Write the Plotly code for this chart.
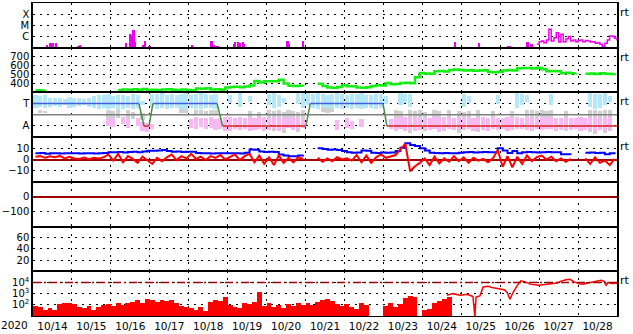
import plotly.graph_objects as go
from plotly.subplots import make_subplots
from datetime import datetime, timedelta

START = datetime(2020, 10, 14)
END = datetime(2020, 10, 29)
N_SLOTS = 120  # 3-hour slots

day_labels = ['10/14', '10/15', '10/16', '10/17', '10/18', '10/19', '10/20', '10/21',
              '10/22', '10/23', '10/24', '10/25', '10/26', '10/27', '10/28']
year_label = '2020'

# ---- panel 1 : X-ray flux ----
xray_tick_vals = [1e-6, 1e-5, 1e-4]
xray_tick_text = ['C', 'M', 'X']
xray_spike_day = [0.36, 0.44, 0.51, 0.59, 1.16, 1.21, 2.39, 2.49, 2.54, 2.59, 2.62, 2.83, 2.88, 3.0,
                  4.09, 4.22, 4.55, 4.59, 4.66, 4.70, 4.76, 5.17, 5.20, 5.28, 5.32, 5.40, 5.43,
                  6.54, 6.57, 6.94, 10.84, 11.46, 11.87, 11.91, 12.21, 12.25, 12.71, 12.81]
xray_spike_flux = [1.9e-7, 2.5e-7, 2.5e-7, 2.5e-7, 1.5e-7, 1.8e-7, 2.5e-7, 1.7e-6, 1.5e-6, 3.7e-6, 3e-7,
                   1.7e-7, 4.2e-7, 1.5e-7, 1.7e-7, 1.2e-7, 1.2e-7, 4.2e-7, 1.9e-7, 1.4e-7, 1.5e-7,
                   2.1e-7, 3.5e-7, 3e-7, 2.4e-7, 3e-7, 2e-7, 4.2e-7, 2e-7, 4.2e-7, 3e-7, 2.4e-7,
                   1.2e-7, 1.2e-7, 1.5e-7, 1.5e-7, 3e-7, 2e-7]
xray_line_day = [12.94, 13.0, 13.06, 13.12, 13.19, 13.25, 13.31, 13.38, 13.44, 13.5, 13.56, 13.62,
                 13.69, 13.75, 13.81, 13.88, 13.94, 14.0, 14.06, 14.12, 14.19, 14.25, 14.31, 14.38,
                 14.44, 14.5, 14.56, 14.62, 14.69, 14.75, 14.81, 14.88, 14.94, 15.0]
xray_line_flux = [2.0e-7, 3.5e-7, 4.0e-7, 2.8e-7, 5.0e-7, 4.5e-6, 4.0e-7, 7.9e-7, 2.2e-6, 3.2e-7,
                  1.6e-6, 3.5e-7, 6.3e-7, 1.0e-6, 4.0e-7, 5.0e-7, 3.5e-7, 4.5e-7, 5.0e-7, 3.5e-7,
                  4.5e-7, 4.0e-7, 3.2e-7, 3.5e-7, 2.5e-7, 2.8e-7, 2.0e-7, 1.3e-7, 2.5e-7, 5.0e-7,
                  1.1e-6, 1.0e-6, 7.1e-7, 4.5e-7]

# ---- panel 2 : solar wind speed (3-hour slots) ----
speed_tick_vals = [400, 500, 600, 700]
speed = [325, 322, 326, None, None, None, None, None,
         None, None, None, None, None, None, None, 330,
         None, 328, 332, 326, 335, 330, 338, 327,
         331, 325, 334, 336, 330, 328, 333, 326,
         325, 344, 340, 346, 333, 336, 330, 355,
         360, 364, 358, 366, 378, 428, 410, 425,
         425, 424, 441, 400, 375, 372, 374, 370,
         None, None, 398, 372, 356, 352, 360, 380,
         370, 368, 355, 352, 358, 372, 380, 378,
         406, 392, 395, 404, 408, 402, 470, 516,
         512, 508, 536, 540, 535, 552, 556, 550,
         546, 548, 542, 546, 548, 527, 525, 530,
         546, 550, 544, 570, 574, 572, 568, 575,
         560, 536, 540, 538, 515, 520, 514, 516,
         None, 508, 512, 505, 515, 510, 506, 512]

# ---- panel 3 : sector (T = +1, A = -1) ----
sector_tick_vals = [-1, 1]
sector_tick_text = ['A', 'T']
sector_mid_level = 0
sector_day = [0, 2.72, 2.85, 2.98, 3.08, 4.73, 4.87, 7.01, 7.12, 8.99, 9.09, 15.0]
sector_val = [1, 1, -1, -1, 1, 1, -1, -1, 1, 1, -1, -1]
N = None
cyan_hi = [1.7, 1.6, 1.75, 1.5, 1.45, 1.5, 1.4, 1.55,
           1.5, 1.45, 1.35, 1.5, 1.6, 1.75, 1.7, 1.8,
           1.65, 1.75, 1.7, 1.6, 1.8, 1.7, 1.2, N,
           1.85, 1.8, 1.9, 1.75, 1.85, 1.7, 1.8, 1.9,
           1.75, 1.85, 1.9, 1.8, 1.7, 1.85, N, N,
           1.7, N, 1.9, N, 1.6, N, N, N,
           1.8, 1.95, 1.7, 1.5, N, N, 1.9, 1.95,
           1.9, 1.85, 1.9, 1.8, 1.75, 1.85, 1.9, 1.8,
           1.7, 1.85, 1.8, 1.9, 1.75, 1.7, 1.85, 1.8,
           1.6, N, N, 1.9, 1.8, 1.85, N, N,
           N, N, N, N, N, N, N, N,
           1.8, 1.6, N, N, N, N, N, 1.7,
           N, N, N, 1.9, 1.8, 1.7, N, N,
           N, N, 1.85, N, N, N, N, N,
           N, N, 1.9, 1.8, 1.85, 1.9, 1.6, N]
cyan_lo = [0.6, 0.7, 0.55, 0.7, 0.75, 0.65, 0.8, 0.6,
           0.7, 0.75, 0.8, 0.65, 0.55, 0.5, 0.6, 0.45,
           0.55, 0.4, 0.5, 0.6, 0.45, 0.55, 0.8, N,
           0.7, 0.5, 0.6, 0.45, 0.55, 0.6, 0.5, 0.4,
           0.55, 0.5, 0.45, 0.6, 0.55, 0.5, N, N,
           1.0, N, 0.7, N, 1.1, N, N, N,
           0.8, 0.6, 0.7, 1.0, N, N, 0.9, 0.6,
           0.8, 0.6, 0.5, 0.7, 0.55, 0.5, 0.6, 0.45,
           0.55, 0.5, 0.6, 0.45, 0.55, 0.6, 0.5, 0.55,
           0.9, N, N, 0.8, 1.0, 0.7, N, N,
           N, N, N, N, N, N, N, N,
           0.7, 1.0, N, N, N, N, N, 0.9,
           N, N, N, 0.6, 0.8, 1.1, N, N,
           N, N, 0.8, N, N, N, N, N,
           N, N, 0.7, 0.5, 0.6, 0.8, 1.1, N]
pink_hi = [N, N, N, N, N, N, N, N,
           N, N, N, N, N, N, N, -0.3,
           -0.4, N, -0.2, -0.5, N, -0.3, -0.7, -0.75,
           -0.9, N, N, N, N, N, N, N,
           -0.4, -0.25, -0.3, -0.35, -0.2, -0.4, -0.3, -0.25,
           -0.2, -0.3, -0.25, -0.35, -0.2, -0.3, -0.25, -0.2,
           -0.3, -0.25, -0.2, -0.3, -0.35, -0.25, -0.3, -0.4,
           N, N, N, N, N, N, -0.5, N,
           -0.3, -0.6, N, -0.4, N, N, N, N,
           N, -0.4, -0.3, -0.25, -0.2, -0.3, -0.25, -0.3,
           -0.3, -0.35, -0.25, -0.3, -0.2, -0.35, -0.3, -0.25,
           -0.3, -0.25, -0.3, -0.35, -0.2, -0.3, -0.25, -0.3,
           -0.35, -0.2, -0.3, -0.25, -0.3, -0.2, -0.35, -0.3,
           -0.25, -0.3, -0.2, -0.3, -0.35, -0.25, -0.3, -0.3,
           -0.25, -0.3, -0.2, -0.25, -0.3, -0.2, -0.25, N]
pink_lo = [N, N, N, N, N, N, N, N,
           N, N, N, N, N, N, N, -1.0,
           -1.1, N, -0.9, -1.2, N, -1.0, -1.5, -1.6,
           -1.3, N, N, N, N, N, N, N,
           -1.2, -1.3, -1.1, -1.35, -1.25, -1.4, -1.3, -1.45,
           -1.5, -1.35, -1.4, -1.3, -1.45, -1.4, -1.3, -1.5,
           -1.4, -1.35, -1.5, -1.3, -1.25, -1.4, -1.35, -1.2,
           N, N, N, N, N, N, -1.4, N,
           -1.2, -1.3, N, -1.1, N, N, N, N,
           N, -1.3, -1.4, -1.35, -1.5, -1.3, -1.45, -1.4,
           -1.35, -1.4, -1.3, -1.45, -1.5, -1.35, -1.4, -1.3,
           -1.4, -1.35, -1.45, -1.3, -1.4, -1.5, -1.35, -1.4,
           -1.3, -1.45, -1.4, -1.35, -1.3, -1.4, -1.5, -1.35,
           -1.4, -1.3, -1.35, -1.45, -1.4, -1.3, -1.4, -1.35,
           -1.45, -1.4, -1.35, -1.5, -1.4, -1.45, -1.3, N]
gray_hi = [N, 0.35, 0.3, N, N, N, N, N,
           N, N, N, N, N, N, N, 0.4,
           0.3, 0.45, N, 0.35, 0.2, N, 0.1, N,
           N, N, N, N, N, N, 0.65, 0.6,
           N, 0.4, 0.35, 0.3, 0.4, 0.35, N, N,
           N, N, N, N, 0.3, N, 0.2, N,
           0.4, 0.3, 0.35, 0.2, 0.4, 0.3, 0.25, 0.4,
           N, N, N, 0.7, 0.6, 0.65, N, N,
           N, N, N, N, N, N, N, N,
           N, N, 0.4, 0.3, N, 0.35, 0.3, 0.4,
           0.2, N, 0.35, 0.3, N, 0.4, N, 0.3,
           0.25, 0.3, N, 0.4, N, N, 0.3, N,
           N, N, 0.3, N, N, 0.4, 0.35, 0.3,
           0.4, 0.3, 0.35, N, N, 0.3, N, N,
           N, N, 0.4, 0.35, 0.3, 0.4, 0.35, N]
gray_lo = [N, 0.1, 0.15, N, N, N, N, N,
           N, N, N, N, N, N, N, -0.5,
           -0.7, -0.3, N, -0.6, -0.4, N, -0.5, N,
           N, N, N, N, N, N, 0.15, 0.1,
           N, 0.0, -0.05, 0.05, -0.1, 0.0, N, N,
           N, N, N, N, -0.5, N, -0.6, N,
           -1.0, -1.5, -0.8, -1.7, -1.2, -0.9, -1.6, -0.6,
           N, N, N, 0.2, 0.15, 0.25, N, N,
           N, N, N, N, N, N, N, N,
           N, N, -1.5, -0.9, N, -1.7, -1.2, -0.8,
           -1.5, N, -1.0, -1.6, N, -0.8, N, -1.7,
           -1.2, -0.7, N, -1.6, N, N, -1.0, N,
           N, N, -0.9, N, N, -0.7, -0.8, -0.6,
           -0.75, -0.6, -0.9, N, N, -1.5, N, N,
           N, N, -1.6, -1.8, -1.2, -1.7, -1.5, N]

# ---- panel 4 : IMF Bt / Bz (nT) ----
imf_tick_vals = [-10, 0, 10]
bt = [5.5, 5.8, 5.2, 5.5, 5.6, 5.3, 5.5, 5.7,
      5.5, 5.4, 5.6, 5.5, 5.3, 5.6, 5.9, 6.5,
      6.5, 6.8, 6.3, 6.6, 7.0, 6.5, 7.2, 7.8,
      7.8, 8.0, 8.4, 7.5, 7.0, 7.2, 6.8, 7.0,
      7.0, 5.8, 5.5, 5.6, 5.4, 5.5, 5.5, 5.7,
      5.5, 5.6, 5.3, 6.0, 9.0, 8.8, 7.2, 6.8,
      7.0, 6.8, 4.5, 3.5, 3.0, 2.8, 3.5, 4.0,
      N, N, 10.0, 9.5, 8.8, 9.0, 8.5, 7.5,
      6.5, 6.0, 6.2, 8.0, 7.8, 6.0, 5.8, 6.2,
      6.0, 6.3, 7.5, 10.5, 14.5, 13.0, 12.0, 10.0,
      8.0, 6.0, 5.8, 5.5, 5.9, 5.6, 5.5, 6.0,
      6.5, 6.8, 6.2, 6.5, 6.6, 6.4, 6.5, 10.0,
      8.0, 5.8, 7.5, 5.6, 6.5, 6.8, 6.5, 6.3,
      6.5, 6.8, 6.4, 6.5, 4.6, 4.8, 4.5, N,
      N, 6.0, 6.2, 5.8, 6.0, 4.6, 5.5, 4.8]
bz = [2.5, 3.0, 1.5, 2.8, 2.0, 3.2, 1.0, 2.5,
      1.0, 0.5, 1.8, 0.2, 1.5, 0.8, 2.0, 4.5,
      -1.0, 5.0, -2.5, 3.0, 0.5, -3.0, 2.5, -0.5,
      -4.0, 1.5, -1.5, 2.0, 4.5, -0.5, 3.0, 1.0,
      5.0, 0.5, 2.5, -0.5, 3.0, 1.5, 4.0, 0.0,
      2.0, 4.5, -0.5, 3.0, 5.0, -2.5, 3.5, -4.0,
      2.0, -5.0, 3.5, -3.0, 1.5, -2.5, 2.0, 0.5,
      N, N, 1.5, -2.0, 1.0, -1.5, 2.0, 0.0,
      1.0, -1.0, 4.0, -2.5, 3.5, -3.0, 2.0, 4.5,
      1.5, 3.0, 4.0, 9.0, 14.0, -10.5, -6.0, -3.0,
      1.0, -5.0, 2.5, -3.5, 1.0, -2.0, 3.0, -1.5,
      2.0, -3.0, 1.5, -1.0, 0.5, -2.5, 1.0, 8.5,
      -6.5, 3.0, -7.0, 2.5, -4.0, 3.5, -1.5, 2.0,
      3.5, 0.0, 2.5, -1.5, 1.0, -2.0, 0.5, N,
      N, 1.0, -4.0, 2.0, -3.0, -1.0, -5.0, 0.5]

# ---- panel 5 / 6 : empty panels ----
dst_tick_vals = [-100, 0]
kp_tick_vals = [20, 40, 60]

# ---- panel 7 : electron flux ----
e_tick_vals = [100, 1000, 10000]
e_tick_text = ['10<sup>2</sup>', '10<sup>3</sup>', '10<sup>4</sup>']
e_alert_level = 10000
e_bar_flux = [80, 63, 30, 45, 35, 110, 150, 130,
              110, 60, 45, 70, 35, 55, 90, 110,
              80, 150, 100, 130, 180, 230, 150, 300,
              260, 180, 250, 200, 280, 150, 70, 60,
              45, 30, 55, 25, 180, 250, 200, 450,
              100, 60, 45, 150, 110, 180, 1200, 80,
              140, 60, 90, 50, 110, 70, 150, 100,
              130, 90, 160, 250, 300, 200, 120, 70,
              110, 60, 40, 140, 90, N, N, N,
              80, 150, 60, 120, 350, 550, 450, N,
              35, 40, 130, 200, 300, 450]
e_line_day = [10.63, 10.79, 10.97, 11.15, 11.30, 11.35, 11.38, 11.48, 11.56, 11.69, 11.79, 11.89,
              12.0, 12.10, 12.18, 12.25, 12.33, 12.43, 12.53, 12.64, 12.77, 12.90, 12.97, 13.10,
              13.20, 13.33, 13.46, 13.56, 13.69, 13.79, 13.90, 14.03, 14.13, 14.26, 14.38, 14.49,
              14.59, 14.67, 14.72, 14.77, 14.87, 15.0]
e_line_flux = [708, 1000, 708, 891, 562, 8, 501, 631, 3981, 4467, 3548, 3162,
               2512, 2239, 1259, 316, 1259, 5012, 14125, 11220, 7079, 6310, 5623, 6310,
               7079, 8318, 8913, 13183, 17783, 19055, 11220, 7586, 6918, 8913, 11220, 15136,
               15849, 12589, 5623, 10000, 7943, 8318]

# ------------------------------------------------------------------
def at_day(d):
    return START + timedelta(days=d)

slot_time = [START + timedelta(hours=3 * i + 1.5) for i in range(N_SLOTS)]
SLOT_MS = 3 * 3600 * 1000


def span(hi, lo):
    return [None if (h is None or l is None) else h - l for h, l in zip(hi, lo)]


MAG = '#ee00ee'
DARKRED = '#a00000'
fig = make_subplots(rows=7, cols=1, shared_xaxes=True, vertical_spacing=0)

# panel 1
fig.add_trace(go.Bar(x=[at_day(d) for d in xray_spike_day], y=xray_spike_flux, width=4.0e6,
                     marker=dict(color=MAG, line=dict(width=0))), row=1, col=1)
fig.add_trace(go.Scatter(x=[at_day(d) for d in xray_line_day], y=xray_line_flux, mode='lines',
                         line=dict(color=MAG, width=1.5, shape='hv')), row=1, col=1)
# panel 2
fig.add_trace(go.Scatter(x=slot_time, y=speed, mode='lines', connectgaps=False,
                         line=dict(color='#11ee11', width=2.5, shape='hv')), row=2, col=1)
# panel 3 clouds
for hi, lo, col in [(gray_hi, gray_lo, '#d0d0d0'), (cyan_hi, cyan_lo, '#b4e8f8'),
                    (pink_hi, pink_lo, '#f8b8f2')]:
    fig.add_trace(go.Bar(x=slot_time, y=span(hi, lo), base=lo, width=SLOT_MS * 0.85,
                         marker=dict(color=col, line=dict(width=0))), row=3, col=1)
fig.add_trace(go.Scatter(x=[START, END], y=[sector_mid_level, sector_mid_level], mode='lines',
                         line=dict(color='#808080', width=1.5)), row=3, col=1)
for i in range(len(sector_day) - 1):
    a, b = sector_val[i], sector_val[i + 1]
    col = '#3f5fe0' if (a == b and a > 0) else ('#dd2222' if a == b else '#4a8a4a')
    fig.add_trace(go.Scatter(x=[at_day(sector_day[i]), at_day(sector_day[i + 1])], y=[a, b],
                             mode='lines', line=dict(color=col, width=1.5)), row=3, col=1)
# panel 4
fig.add_trace(go.Scatter(x=slot_time, y=bt, mode='lines', line=dict(color='#0000ff', width=2, shape='hv')),
              row=4, col=1)
fig.add_trace(go.Scatter(x=slot_time, y=bz, mode='lines', line=dict(color='#ff0000', width=2)),
              row=4, col=1)
# panels 5 and 6 carry no data; invisible placeholders keep their axes drawn
for r in (5, 6):
    fig.add_trace(go.Scatter(x=[START, END], y=[None, None], mode='lines', hoverinfo='skip',
                             line=dict(width=0)), row=r, col=1)
# panel 7
fig.add_trace(go.Bar(x=slot_time[:len(e_bar_flux)], y=e_bar_flux, width=SLOT_MS,
                     marker=dict(color='#ff0000', line=dict(width=0))), row=7, col=1)
fig.add_trace(go.Scatter(x=[at_day(d) for d in e_line_day], y=e_line_flux, mode='lines',
                         line=dict(color='#ff0000', width=1.5)), row=7, col=1)
fig.add_trace(go.Scatter(x=[START, END], y=[e_alert_level, e_alert_level], mode='lines',
                         line=dict(color=DARKRED, width=1.5, dash='8px,3px,2px,3px')), row=7, col=1)

DOT = '2px,5px'
noon_ticks = [START + timedelta(days=k, hours=12) for k in range(len(day_labels))]
for r in range(1, 8):
    fig.update_xaxes(row=r, col=1, type='date', range=[START, END], showline=True, mirror=True,
                     linecolor='black', linewidth=1.2, ticks='', showgrid=False,
                     tickmode='array', tickvals=noon_ticks, ticktext=day_labels,
                     showticklabels=(r == 7), zeroline=False, tickfont=dict(size=10.5),
                     minor=dict(dtick=86400000, tick0=START, showgrid=True, gridcolor='black',
                                griddash=DOT, gridwidth=1))

ycfg = {
    1: dict(type='log', range=[-7, -3], tickvals=xray_tick_vals, ticktext=xray_tick_text),
    2: dict(type='linear', range=[300, 800], tickvals=speed_tick_vals),
    3: dict(type='linear', range=[-2, 2], tickvals=sector_tick_vals, ticktext=sector_tick_text),
    4: dict(type='linear', range=[-20, 20], tickvals=imf_tick_vals, zeroline=True,
            zerolinecolor=DARKRED, zerolinewidth=1.5),
    5: dict(type='linear', range=[-200, 100], tickvals=dst_tick_vals, zeroline=True,
            zerolinecolor=DARKRED, zerolinewidth=1.5),
    6: dict(type='linear', range=[0, 80], tickvals=kp_tick_vals),
    7: dict(type='log', range=[1, 5], tickvals=e_tick_vals, ticktext=e_tick_text),
}
for r, cfg in ycfg.items():
    base = dict(showline=True, mirror=True, linecolor='black', linewidth=1.5, ticks='',
                showgrid=True, gridcolor='black', griddash=DOT, gridwidth=1, zeroline=False,
                tickmode='array', fixedrange=True, tickfont=dict(size=10))
    base.update(cfg)
    fig.update_yaxes(row=r, col=1, **base)

ann = []
for r in [1, 2, 3, 4, 7]:
    ann.append(dict(text='rt', xref='paper', x=1, xanchor='left', xshift=1,
                    yref=('y domain' if r == 1 else f'y{r} domain'), y=0.79, yanchor='middle',
                    showarrow=False, font=dict(size=11, color='black')))
ann.append(dict(text=year_label, xref='paper', x=0, xanchor='right', xshift=-3,
                yref='paper', y=0, yanchor='top', yshift=-1, showarrow=False,
                font=dict(size=10.5, color='black')))

fig.update_layout(width=633, height=334, margin=dict(l=33, r=16, t=2, b=17),
                  paper_bgcolor='white', plot_bgcolor='white', showlegend=False,
                  barmode='overlay', bargap=0,
                  font=dict(family='DejaVu Sans', size=10.5, color='black'),
                  annotations=ann)

fig.write_html('out.html')
